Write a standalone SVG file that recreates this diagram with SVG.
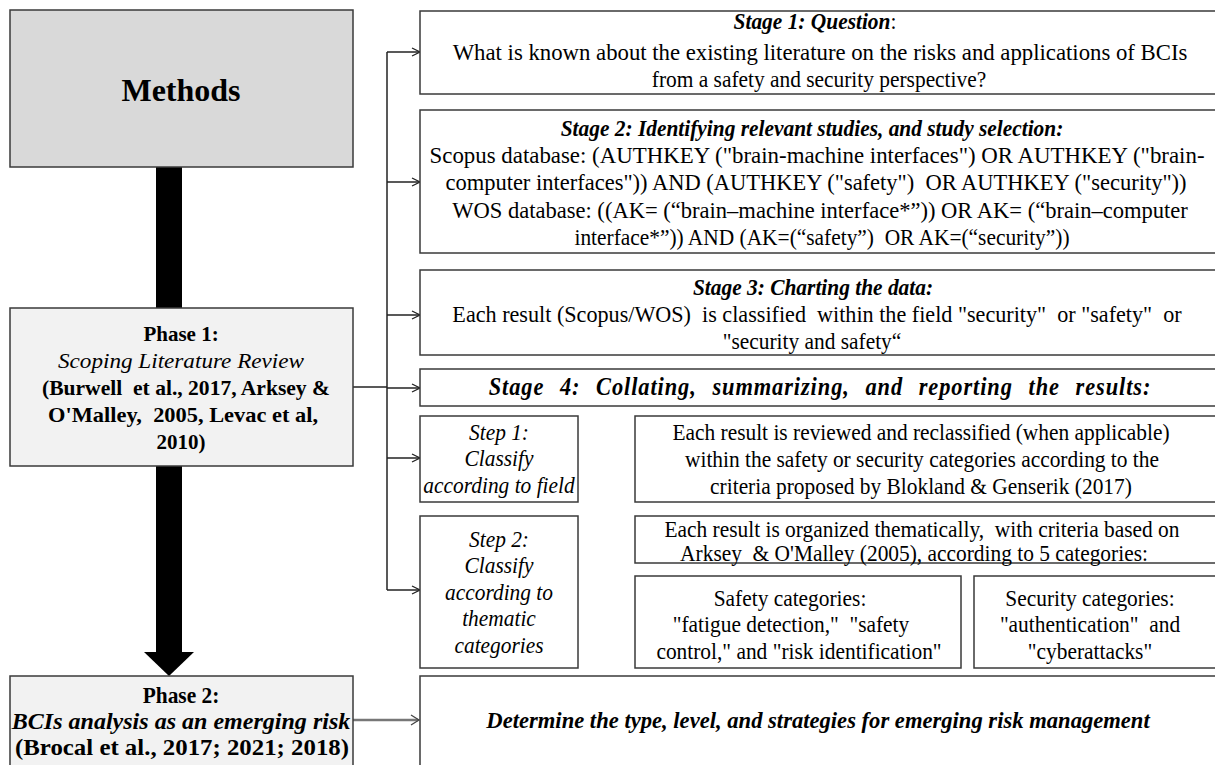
<svg xmlns="http://www.w3.org/2000/svg" width="1215" height="765" viewBox="0 0 1215 765">
<style>
text{font-family:"Liberation Serif","Times New Roman",serif;fill:#000;text-anchor:middle;white-space:pre}
.b{fill:#fff;stroke:#3a3a3a;stroke-width:1.5}
.g{fill:#f2f2f2;stroke:#3a3a3a;stroke-width:1.5}
.d{fill:#d9d9d9;stroke:#3a3a3a;stroke-width:1.5}
.t{font-size:23.4px}
.bi{font-size:23.4px;font-weight:bold;font-style:italic}
.i{font-size:23.4px;font-style:italic}
.bd{font-size:23.4px;font-weight:bold}
.p{font-size:21px;font-weight:bold}
.pi{font-size:21px;font-style:italic}
.c{fill:none;stroke:#222;stroke-width:1.5}
</style>
<defs>
<marker id="ar" markerWidth="10" markerHeight="10" refX="9" refY="5" orient="auto" markerUnits="userSpaceOnUse">
<path d="M1,1 L9,5 L1,9" fill="none" stroke="#222" stroke-width="1.3"/>
</marker>
</defs>

<g id="connectors">
<rect x="156" y="167" width="26" height="141" fill="#000"/>
<rect x="156" y="466" width="26" height="187" fill="#000"/>
<polygon points="144,652 194,652 169,676" fill="#000"/>
<line class="c" x1="387" y1="52" x2="387" y2="590"/>
<line class="c" x1="353" y1="387" x2="387" y2="387" stroke-width="2"/>
<line class="c" x1="387" y1="52" x2="420" y2="52" marker-end="url(#ar)"/>
<line class="c" x1="387" y1="182" x2="420" y2="182" marker-end="url(#ar)"/>
<line class="c" x1="387" y1="315" x2="420" y2="315" marker-end="url(#ar)"/>
<line class="c" x1="387" y1="388" x2="420" y2="388" marker-end="url(#ar)" stroke="#666"/>
<line class="c" x1="387" y1="458" x2="420" y2="458" marker-end="url(#ar)"/>
<line class="c" x1="387" y1="590" x2="420" y2="590" marker-end="url(#ar)"/>
<line x1="353" y1="720" x2="418" y2="720" stroke="#777" stroke-width="2.5"/>
<path d="M411,715 L419,720 L411,725" fill="none" stroke="#444" stroke-width="1.3"/>
</g>

<g id="methods">
<rect class="d" x="10" y="10" width="343" height="157"/>
<text x="181" y="101" style="font-size:32px;font-weight:bold">Methods</text>
</g>

<g id="phase1">
<rect class="g" x="10" y="308" width="343" height="158"/>
<text class="p" x="181" y="341">Phase 1:</text>
<text class="pi" x="181" y="368" textLength="246" lengthAdjust="spacingAndGlyphs">Scoping Literature Review</text>
<text class="p" x="186" y="395" textLength="288" lengthAdjust="spacingAndGlyphs">(Burwell  et al., 2017, Arksey &amp;</text>
<text class="p" x="183" y="422" textLength="270" lengthAdjust="spacingAndGlyphs">O'Malley,  2005, Levac et al,</text>
<text class="p" x="181" y="449">2010)</text>
</g>

<g id="phase2">
<rect class="g" x="10" y="676" width="343" height="95"/>
<text class="bd" transform="translate(181 703) scale(.915 1)">Phase 2:</text>
<text class="bi" transform="translate(181 729) scale(.915 1)" textLength="370" lengthAdjust="spacingAndGlyphs">BCIs analysis as an emerging risk</text>
<text class="bd" transform="translate(182 755) scale(.915 1)" textLength="365" lengthAdjust="spacingAndGlyphs">(Brocal et al., 2017; 2021; 2018)</text>
</g>

<g id="stage1">
<rect class="b" x="420" y="11" width="800" height="83"/>
<text class="t" transform="translate(815 29) scale(.915 1)"><tspan class="bi">Stage 1: Question</tspan>:</text>
<text class="t" transform="translate(820 60) scale(.915 1)" textLength="803" lengthAdjust="spacingAndGlyphs">What is known about the existing literature on the risks and applications of BCIs</text>
<text class="t" transform="translate(819 87) scale(.915 1)">from a safety and security perspective?</text>
</g>

<g id="stage2">
<rect class="b" x="420" y="110" width="800" height="143"/>
<text class="bi" transform="translate(812 136) scale(.915 1)">Stage 2: Identifying relevant studies, and study selection:</text>
<text class="t" transform="translate(817 163) scale(.915 1)" textLength="847" lengthAdjust="spacingAndGlyphs">Scopus database: (AUTHKEY ("brain-machine interfaces") OR AUTHKEY ("brain-</text>
<text class="t" transform="translate(816 190) scale(.915 1)" textLength="810" lengthAdjust="spacingAndGlyphs">computer interfaces")) AND (AUTHKEY ("safety")  OR AUTHKEY ("security"))</text>
<text class="t" transform="translate(820 218) scale(.915 1)" textLength="804" lengthAdjust="spacingAndGlyphs">WOS database: ((AK= (“brain–machine interface*”)) OR AK= (“brain–computer</text>
<text class="t" transform="translate(822 245) scale(.915 1)">interface*”)) AND (AK=(“safety”)  OR AK=(“security”))</text>
</g>

<g id="stage3">
<rect class="b" x="420" y="270" width="800" height="85"/>
<text class="bi" transform="translate(813 295) scale(.915 1)">Stage 3: Charting the data:</text>
<text class="t" transform="translate(817 322) scale(.915 1)" textLength="797" lengthAdjust="spacingAndGlyphs">Each result (Scopus/WOS)  is classified  within the field "security"  or "safety"  or</text>
<text class="t" transform="translate(812 349) scale(.915 1)">"security and safety“</text>
</g>

<g id="stage4">
<rect class="b" x="420" y="369" width="800" height="37"/>
<text class="bi" transform="translate(820 395) scale(.915 1)" style="font-size:24.5px;letter-spacing:1px;word-spacing:10px">Stage 4: Collating, summarizing, and reporting the results:</text>
</g>

<g id="step1">
<rect class="b" x="420" y="416" width="158" height="86"/>
<text class="i" transform="translate(499 440) scale(.915 1)">Step 1:</text>
<text class="i" transform="translate(499 466) scale(.915 1)">Classify</text>
<text class="i" transform="translate(499 493) scale(.915 1)">according to field</text>
</g>

<g id="step1desc">
<rect class="b" x="635" y="416" width="585" height="86"/>
<text class="t" transform="translate(921 440) scale(.915 1)">Each result is reviewed and reclassified (when applicable)</text>
<text class="t" transform="translate(922 467) scale(.915 1)">within the safety or security categories according to the</text>
<text class="t" transform="translate(921 494) scale(.915 1)">criteria proposed by Blokland &amp; Genserik (2017)</text>
</g>

<g id="step2">
<rect class="b" x="420" y="516" width="158" height="152"/>
<text class="i" transform="translate(499 547) scale(.915 1)">Step 2:</text>
<text class="i" transform="translate(499 573) scale(.915 1)">Classify</text>
<text class="i" transform="translate(499 600) scale(.915 1)">according to</text>
<text class="i" transform="translate(499 626) scale(.915 1)">thematic</text>
<text class="i" transform="translate(499 653) scale(.915 1)">categories</text>
</g>

<g id="step2desc">
<rect class="b" x="635" y="516" width="585" height="47"/>
<text class="t" transform="translate(922 537) scale(.915 1)">Each result is organized thematically,  with criteria based on</text>
<text class="t" transform="translate(914 561) scale(.915 1)">Arksey  &amp; O'Malley (2005), according to 5 categories:</text>
</g>

<g id="safety">
<rect class="b" x="635" y="576" width="326" height="92"/>
<text class="t" transform="translate(790 606) scale(.915 1)">Safety categories:</text>
<text class="t" transform="translate(791 632) scale(.915 1)">"fatigue detection,"  "safety</text>
<text class="t" transform="translate(799 659) scale(.915 1)">control," and "risk identification"</text>
</g>

<g id="security">
<rect class="b" x="974" y="576" width="246" height="92"/>
<text class="t" transform="translate(1090 606) scale(.915 1)">Security categories:</text>
<text class="t" transform="translate(1090 632) scale(.915 1)">"authentication"  and</text>
<text class="t" transform="translate(1090 659) scale(.915 1)">"cyberattacks"</text>
</g>

<g id="determine">
<rect class="b" x="420" y="676" width="800" height="95"/>
<text class="bi" transform="translate(818 728) scale(.915 1)" textLength="725" lengthAdjust="spacingAndGlyphs">Determine the type, level, and strategies for emerging risk management</text>
</g>
</svg>
